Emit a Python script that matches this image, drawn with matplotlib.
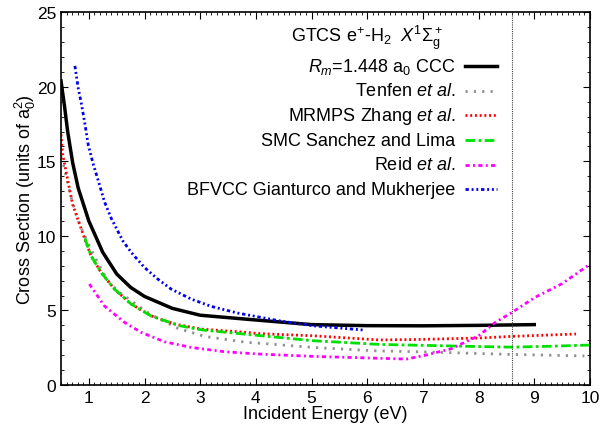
import numpy as np
import matplotlib.pyplot as plt
from matplotlib.ticker import MultipleLocator

plt.rcParams["font.family"] = ["Liberation Sans", "DejaVu Sans"]
plt.rcParams["mathtext.fontset"] = "custom"
plt.rcParams["mathtext.rm"] = "Liberation Sans"
plt.rcParams["mathtext.it"] = "Liberation Sans:italic"

FS = 13

# CCC, R_m = 1.448 a0
ccc_e = [0.5, 0.56, 0.62, 0.71, 0.81, 1.0, 1.25, 1.5, 1.75, 2.0, 2.5, 3.0, 4.0, 5.0, 6.0, 7.0, 8.0, 9.0]
ccc_s = [20.4, 18.8, 17.0, 14.9, 13.2, 11.0, 8.9, 7.45, 6.55, 5.94, 5.14, 4.68, 4.36, 4.05, 3.98, 3.97, 4.0, 4.05]

# Tenfen et al.
ten_e = [0.5, 0.53, 0.68, 0.83, 1.0, 1.16, 1.34, 1.52, 2.1, 2.6, 3.08, 3.83, 4.04, 5.03, 6.1, 7.0, 8.6, 9.9]
ten_s = [15.3, 15.0, 12.6, 10.8, 9.4, 8.2, 7.0, 6.3, 4.75, 3.8, 3.26, 2.86, 2.81, 2.52, 2.3, 2.22, 2.05, 1.95]

# MRMPS Zhang et al.
zh_e = [0.5, 0.53, 0.59, 0.65, 0.71, 0.81, 0.93, 1.04, 1.22, 1.46, 1.76, 2.12, 2.54,
        3.02, 3.83, 4.04, 5.03, 6.23, 7.0, 8.0, 8.6, 9.75]
zh_s = [16.8, 15.5, 14.35, 13.2, 12.1, 11.05, 9.75, 8.66, 7.55, 6.43, 5.43, 4.64, 4.09,
        3.75, 3.53, 3.45, 3.3, 3.02, 3.06, 3.15, 3.26, 3.42]

# SMC Sanchez and Lima
smc_e = [0.93, 1.04, 1.22, 1.46, 1.76, 2.12, 2.64, 3.02, 3.83, 5.03, 6.23, 7.0, 8.0, 8.6, 9.3, 10.0]
smc_s = [9.83, 8.66, 7.55, 6.43, 5.43, 4.62, 3.97, 3.7, 3.4, 2.97, 2.72, 2.66, 2.58, 2.54, 2.6, 2.68]

# Reid et al.
reid_e = [1.01, 1.28, 1.64, 1.94, 2.36, 2.84, 3.44, 4.04, 5.03, 6.23, 6.7, 7.0, 7.5,
          8.0, 8.3, 8.6, 9.0, 9.5, 10.0]
reid_s = [6.77, 5.3, 4.2, 3.53, 2.9, 2.52, 2.23, 2.08, 1.92, 1.79, 1.74, 1.96, 2.42,
          3.3, 4.2, 4.87, 5.85, 6.8, 8.1]

# BFVCC Gianturco and Mukherjee
bf_e = [0.75, 0.81, 0.87, 0.93, 0.99, 1.08, 1.17, 1.28, 1.4, 1.61, 1.76, 2.0, 2.24,
        2.48, 2.84, 3.2, 3.68, 4.43, 5.03, 5.96]
bf_s = [21.4, 19.9, 18.8, 17.5, 16.1, 14.8, 13.7, 12.3, 11.2, 9.67, 8.9, 7.88, 7.1,
        6.43, 5.76, 5.27, 4.82, 4.3, 3.97, 3.68]

threshold = 8.6

fig = plt.figure(figsize=(6.02, 4.27), dpi=100)
ax = fig.add_axes([0.1013, 0.096, 0.8787, 0.873])

series = [
    (ccc_e, ccc_s, dict(color="black", lw=2.5, ls="-")),
    (ten_e, ten_s, dict(color="#909090", lw=2.0, ls=(0, (0.8, 2.2)))),
    (zh_e, zh_s, dict(color="red", lw=2.0, ls=(0, (0.7, 1.0)))),
    (smc_e, smc_s, dict(color="#00e000", lw=2.0, ls=(0, (3.5, 1.2, 1.0, 1.2)))),
    (reid_e, reid_s, dict(color="magenta", lw=2.0, ls=(0, (1.5, 1.2, 0.7, 1.2)))),
    (bf_e, bf_s, dict(color="#0000ee", lw=2.0, ls=(0, (1.2, 1.0, 0.7, 1.0, 0.7, 1.0)))),
]
labels = [
    r"$R_m$=1.448 a$_0$ CCC",
    r"Tenfen $et\ al.$",
    r"MRMPS Zhang $et\ al.$",
    "SMC Sanchez and Lima",
    r"Reid $et\ al.$",
    "BFVCC Gianturco and Mukherjee",
]

for e, s, st in series:
    ax.plot(e, s, **st)

ax.axvline(threshold, color="#404040", lw=0.8, ls=(0, (1, 1)))

ax.set_xlim(0.5, 10)
ax.set_ylim(0, 25)
ax.xaxis.set_major_locator(MultipleLocator(1))
ax.xaxis.set_minor_locator(MultipleLocator(0.1))
ax.yaxis.set_major_locator(MultipleLocator(5))
ax.yaxis.set_minor_locator(MultipleLocator(1))
ax.tick_params(which="both", direction="in", top=True, right=True, labelsize=12.5)
ax.tick_params(which="major", length=5)
ax.tick_params(which="minor", length=2.5)
ax.set_xticks(np.arange(1, 11))
ax.set_xlabel("Incident Energy (eV)", fontsize=FS, labelpad=0)
ax.set_ylabel(r"Cross Section (units of a$_0^2$)", fontsize=FS, labelpad=-1)
for sp in ax.spines.values():
    sp.set_linewidth(1.2)

# legend drawn gnuplot-style: right-aligned text, sample to the right
ax.text(0.579, 0.933, r"GTCS e$^{+}$-H$_2$  $X^1\Sigma_\mathrm{g}^+$", transform=ax.transAxes,
        fontsize=FS, ha="center", va="center")
y0, dy = 0.855, 0.066
for i, ((e, s, st), lab) in enumerate(zip(series, labels)):
    y = y0 - i * dy
    ax.text(0.745, y, lab, transform=ax.transAxes, fontsize=FS, ha="right", va="center")
    ax.plot([0.764, 0.824], [y, y], transform=ax.transAxes, **st)

fig.savefig("out.png", dpi=100)
